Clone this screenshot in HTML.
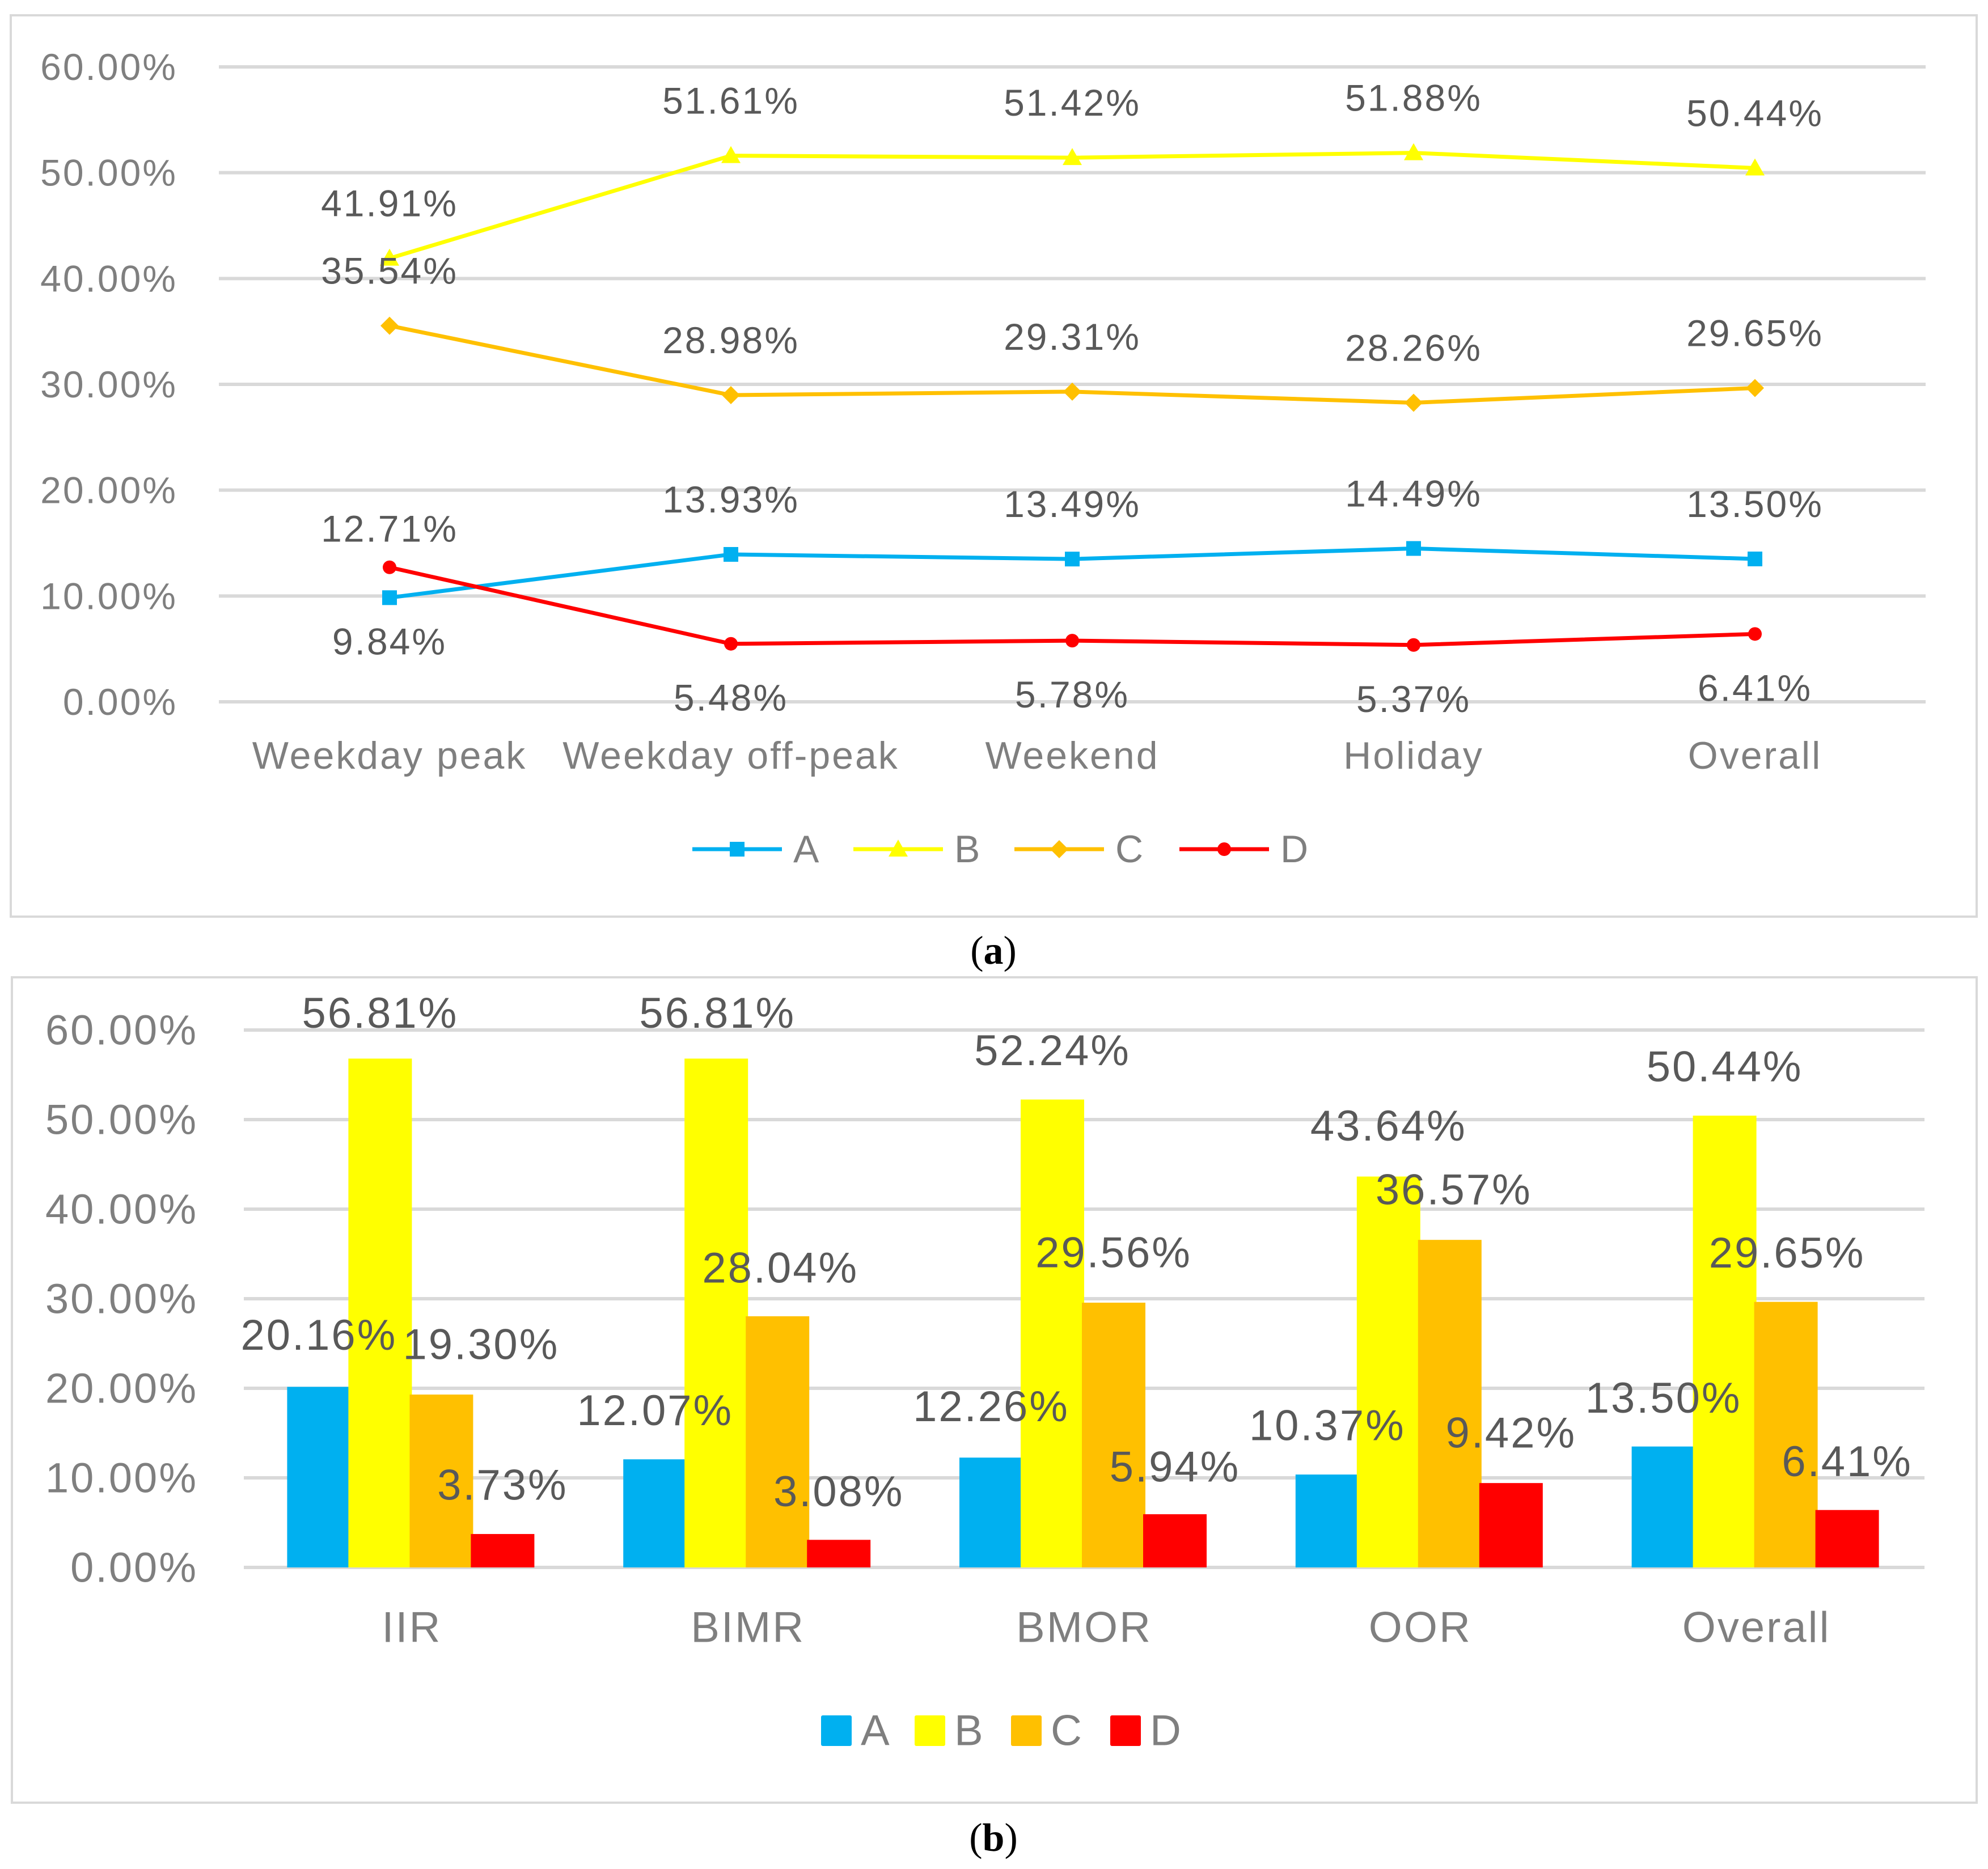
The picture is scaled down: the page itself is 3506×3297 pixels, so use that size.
<!DOCTYPE html>
<html><head><meta charset="utf-8"><style>
html,body{margin:0;padding:0;background:#fff}
svg{display:block}
text{font-family:"Liberation Sans",sans-serif;letter-spacing:3px}
</style></head><body>
<svg id="fig" width="3506" height="3297" viewBox="0 0 3506 3297" xmlns="http://www.w3.org/2000/svg">
<rect x="0" y="0" width="3506" height="3297" fill="#fff"/>
<rect x="19" y="27" width="3467" height="1590" fill="none" stroke="#d9d9d9" stroke-width="4"/>
<rect x="21" y="1724" width="3465" height="1456" fill="none" stroke="#d9d9d9" stroke-width="4"/>
<g id="ga"></g>
<g id="gb"></g>
<text x="1752" y="1677" text-anchor="middle" dominant-baseline="central" font-size="70" style="font-family:'Liberation Serif',serif;letter-spacing:0">(<tspan font-weight="bold">a</tspan>)</text>
<text x="1752" y="3242" text-anchor="middle" dominant-baseline="central" font-size="70" style="font-family:'Liberation Serif',serif;letter-spacing:0">(<tspan font-weight="bold">b</tspan>)</text>
</svg>
<script>
// ---------- data chart (a) ----------
const catsA = ["Weekday peak","Weekday off-peak","Weekend","Holiday","Overall"];
const seriesNames = ["A","B","C","D"];
const lineA = [9.84,13.93,13.49,14.49,13.50];
const lineB = [41.91,51.61,51.42,51.88,50.44];
const lineC = [35.54,28.98,29.31,28.26,29.65];
const lineD = [12.71,5.48,5.78,5.37,6.41];
const ticks = [0,10,20,30,40,50,60];
// ---------- data chart (b) ----------
const catsB = ["IIR","BIMR","BMOR","OOR","Overall"];
const barA = [20.16,12.07,12.26,10.37,13.50];
const barB = [56.81,56.81,52.24,43.64,50.44];
const barC = [19.30,28.04,29.56,36.57,29.65];
const barD = [3.73,3.08,5.94,9.42,6.41];

const colors = ["#00b0f0","#ffff00","#ffc000","#ff0000"];
const NS = "http://www.w3.org/2000/svg";
function mk(parent, tag, attrs, txt){
  const e = document.createElementNS(NS, tag);
  for (const k in attrs) e.setAttribute(k, attrs[k]);
  if (txt !== undefined) e.textContent = txt;
  parent.appendChild(e);
  return e;
}
const fmt = v => v.toFixed(2) + "%";

// ===== Chart A =====
(function(){
  const g = document.getElementById("ga");
  const x0 = 386, x1 = 3396, yTop = 118, yBot = 1238, vmax = 60;
  const step = (x1 - x0) / catsA.length;
  const xs = i => x0 + step * (i + 0.5);
  const ys = v => yBot - (v / vmax) * (yBot - yTop);
  ticks.forEach(t => {
    const l = mk(g, "line", {x1:x0, x2:x1, y1:ys(t), y2:ys(t), stroke:"#d9d9d9", "stroke-width":6});
    
    
    const tx = mk(g, "text", {x:313, y:ys(t), "text-anchor":"end", "dominant-baseline":"central", "font-size":66, fill:"#7f7f7f"}, t.toFixed(2) + "%");
    
    
  });
  catsA.forEach((c, i) => {
    const t = mk(g, "text", {x:xs(i), y:1333, "text-anchor":"middle", "dominant-baseline":"central", "font-size":68, fill:"#7f7f7f"}, c);
    
    
  });
  const series = [lineA, lineB, lineC, lineD];
  // label layout offsets (px from the point) — layout only
  const labelDY = [[77,-97,-97,-97,-97],[-97,-97,-97,-97,-97],[-97,-97,-97,-97,-97],[-68,95,95,95,95]];
  function marker(parent, s, x, y){
    let m;
    if (s === 0) m = mk(parent, "rect", {x:x-13, y:y-13, width:26, height:26, fill:colors[0]});
    else if (s === 1) m = mk(parent, "polygon", {points:`${x},${y-17} ${x-17},${y+13} ${x+17},${y+13}`, fill:colors[1]});
    else if (s === 2) m = mk(parent, "polygon", {points:`${x},${y-16} ${x+16},${y} ${x},${y+16} ${x-16},${y}`, fill:colors[2]});
    else m = mk(parent, "circle", {cx:x, cy:y, r:12, fill:colors[3]});
    return m;
  }
  series.forEach((vals, s) => {
    const pts = vals.map((v, i) => xs(i) + "," + ys(v)).join(" ");
    const pl = mk(g, "polyline", {points:pts, fill:"none", stroke:colors[s], "stroke-width":7, "stroke-linejoin":"round"});
    
    
    vals.forEach((v, i) => {
      const m = marker(g, s, xs(i), ys(v));
      
      
    });
  });
  series.forEach((vals, s) => {
    vals.forEach((v, i) => {
      const t = mk(g, "text", {x:xs(i), y:ys(v) + labelDY[s][i], "text-anchor":"middle", "dominant-baseline":"central", "font-size":66, fill:"#595959"}, fmt(v));
      
      
    });
  });
  // legend
  const lx = [1221, 1505, 1789, 2080];
  seriesNames.forEach((n, s) => {
    const lg = mk(g, "g", {});
    
    
    mk(lg, "line", {x1:lx[s], x2:lx[s]+158, y1:1498, y2:1498, stroke:colors[s], "stroke-width":7});
    marker(lg, s, lx[s]+79, 1498);
    mk(lg, "text", {x:lx[s]+178, y:1498, "dominant-baseline":"central", "font-size":68, fill:"#7f7f7f"}, n);
  });
})();

// ===== Chart B =====
(function(){
  const g = document.getElementById("gb");
  const x0 = 430, x1 = 3394, yTop = 1817, yBot = 2765, vmax = 60;
  const step = (x1 - x0) / catsB.length;
  const xs = i => x0 + step * (i + 0.5);
  const ys = v => yBot - (v / vmax) * (yBot - yTop);
  ticks.forEach(t => {
    const l = mk(g, "line", {x1:x0, x2:x1, y1:ys(t), y2:ys(t), stroke:"#d9d9d9", "stroke-width":6});
    
    
    const tx = mk(g, "text", {x:349, y:ys(t), "text-anchor":"end", "dominant-baseline":"central", "font-size":74, fill:"#7f7f7f"}, t.toFixed(2) + "%");
    
    
  });
  catsB.forEach((c, i) => {
    const t = mk(g, "text", {x:xs(i), y:2871, "text-anchor":"middle", "dominant-baseline":"central", "font-size":76, fill:"#7f7f7f"}, c);
    
    
  });
  const series = [barA, barB, barC, barD];
  const bw = 112, bstep = 108;
  series.forEach((vals, s) => {
    vals.forEach((v, i) => {
      const bx = xs(i) - 220 + s * bstep;
      const r = mk(g, "rect", {x:bx, y:ys(v), width:bw, height:yBot - ys(v), fill:colors[s]});
      
      
    });
  });
  // label layout offsets (px, relative to bar top centre) — layout only
  const labelDX = [[0,0,0,0,0],[0,2,0,0,0],[70,5,0,7,2],[0,0,0,0,0]];
  const labelDY = [[-91,-86,-90,-86,-85],[-80,-80,-86,-89,-86],[-88,-85,-88,-88,-86],[-86,-85,-83,-88,-85]];
  series.forEach((vals, s) => {
    vals.forEach((v, i) => {
      const cx = xs(i) - 220 + s * bstep + bw / 2;
      const t = mk(g, "text", {x:cx + labelDX[s][i], y:ys(v) + labelDY[s][i], "text-anchor":"middle", "dominant-baseline":"central", "font-size":76, fill:"#595959"}, fmt(v));
      
      
    });
  });
  const lx = [1448, 1613, 1783, 1958];
  seriesNames.forEach((n, s) => {
    const lg = mk(g, "g", {});
    
    
    mk(lg, "rect", {x:lx[s], y:3026, width:54, height:54, fill:colors[s], rx:3});
    mk(lg, "text", {x:lx[s] + 70, y:3053, "dominant-baseline":"central", "font-size":76, fill:"#7f7f7f"}, n);
  });
})();
</script>
</body></html>
